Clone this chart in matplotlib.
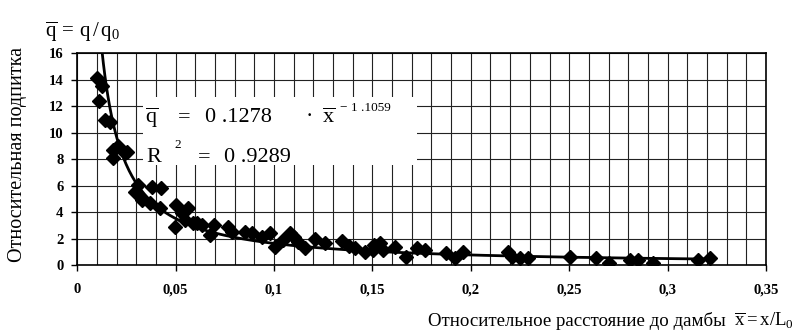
import numpy as np
import matplotlib
matplotlib.use("Agg")
from matplotlib import pyplot as plt
from matplotlib.ticker import MultipleLocator, FuncFormatter
from matplotlib.patches import Rectangle

plt.rcParams['font.family'] = ['Liberation Serif', 'DejaVu Serif']
plt.rcParams['mathtext.fontset'] = 'custom'
plt.rcParams['mathtext.rm'] = 'Liberation Serif'
plt.rcParams['mathtext.it'] = 'Liberation Serif'

# measured points (relative distance x, relative recharge q)
x_obs = [0.0099, 0.0127, 0.0112, 0.0141, 0.0166, 0.0180, 0.0208, 0.0251, 0.0183, 0.0242,
         0.0310, 0.0293, 0.0327, 0.0378, 0.0424, 0.0370, 0.0420, 0.0500, 0.0497, 0.0547,
         0.0564, 0.0607, 0.0632, 0.0674, 0.0695, 0.0767, 0.0784, 0.0850, 0.0887, 0.0937,
         0.0980, 0.1004, 0.1047, 0.1080, 0.1123, 0.1157, 0.1208, 0.1260, 0.1344, 0.1380,
         0.1410, 0.1460, 0.1505, 0.1540, 0.1555, 0.1614, 0.1673, 0.1724, 0.1766, 0.1876,
         0.1918, 0.1960, 0.2190, 0.2207, 0.2250, 0.2290, 0.2503, 0.2635, 0.2700, 0.2810,
         0.2850, 0.2927, 0.3155, 0.3215, 0.0530, 0.0590, 0.1100, 0.1510]
q_obs = [14.1, 13.5, 12.4, 10.96, 10.8, 8.7, 9.0, 8.57, 8.06, 8.44,
         6.05, 5.54, 4.91, 5.92, 5.8, 4.68, 4.3, 4.53, 2.9, 3.4,
         4.28, 3.15, 3.0, 2.27, 3.0, 2.9, 2.52, 2.52, 2.4, 2.14,
         2.4, 1.38, 1.9, 2.4, 1.76, 1.26, 2.0, 1.64, 1.84, 1.44,
         1.26, 1.0, 1.13, 1.64, 1.13, 1.38, 0.63, 1.26, 1.13, 0.88,
         0.5, 1.0, 1.0, 0.63, 0.5, 0.5, 0.63, 0.5, 0.13, 0.38,
         0.38, 0.13, 0.38, 0.5, 3.9, 3.2, 2.1, 1.5]

# power trendline from the chart label
coef_a = 0.1278
coef_b = -1.1059
x_fit = np.linspace(0.0125, 0.32, 400)
q_fit = coef_a * x_fit ** coef_b

fig = plt.figure(figsize=(7.95, 3.32), dpi=100)
ax = fig.add_axes([0.0972, 0.2018, 0.8663, 0.6377])

ax.set_xlim(0, 0.35)
ax.set_ylim(0, 16)
ax.xaxis.set_major_locator(MultipleLocator(0.05))
ax.xaxis.set_minor_locator(MultipleLocator(0.01))
ax.yaxis.set_major_locator(MultipleLocator(2))
ax.xaxis.set_major_formatter(FuncFormatter(lambda v, p: ('%g' % round(v, 2)).replace('.', ',')))
ax.grid(which='both', axis='x', color='#222222', linewidth=0.8)
ax.grid(which='major', axis='y', color='#222222', linewidth=0.8)
ax.set_axisbelow(True)
ax.tick_params(axis='both', which='major', direction='out', length=4, width=1,
               labelsize=10.5)
ax.tick_params(axis='x', which='major', pad=9)
ax.tick_params(axis='y', which='major', pad=6)
ax.tick_params(axis='x', which='minor', length=0)
for lab in ax.get_xticklabels() + ax.get_yticklabels():
    lab.set_fontweight('bold')
for sp in ax.spines.values():
    sp.set_linewidth(1.2)

# white panel behind the equation
ax.add_patch(Rectangle((0.0334, 7.56), 0.1392, 5.14, facecolor='white',
                       edgecolor='none', zorder=1.5))

ax.plot(x_fit, q_fit, color='black', linewidth=2.0, zorder=3)
ax.plot(x_obs, q_obs, linestyle='none', marker='D', markersize=7,
        color='black', zorder=4)

# equation text
fig.text(145 / 795, 1 - 123 / 332, r'$\overline{\mathrm{q}}$', fontsize=16)
fig.text(178 / 795, 1 - 122 / 332, '=', fontsize=16)
fig.text(205 / 795, 1 - 122 / 332, '0 .1278', fontsize=16)
fig.text(306 / 795, 1 - 122 / 332, '·', fontsize=16)
fig.text(322 / 795, 1 - 123 / 332, r'$\overline{\mathrm{x}}$', fontsize=16)
fig.text(340 / 795, 1 - 111 / 332, '− 1 .1059', fontsize=9.5)
fig.text(146 / 795, 1 - 162 / 332, 'R', fontsize=16)
fig.text(174 / 795, 1 - 148 / 332, '2', fontsize=9.5)
fig.text(198 / 795, 1 - 162 / 332, '=', fontsize=16)
fig.text(224 / 795, 1 - 162 / 332, '0 .9289', fontsize=16)

# axis titles
fig.text(45 / 795, 1 - 37 / 332,
         r'$\overline{\mathrm{q}}\,\mathrm{=\,q\,/\,q}_\mathrm{0}$', fontsize=15)
fig.text(18 / 795, 1 - 155 / 332, 'Относительная подпитка', rotation=90,
         ha='center', va='center', fontsize=14.5)
fig.text(428 / 795, 1 - 326 / 332, 'Относительное расстояние до дамбы',
         ha='left', va='baseline', fontsize=13.6)
fig.text(794 / 795, 1 - 326 / 332,
         r'$\overline{\mathrm{x}}\mathrm{=x/L}_\mathrm{0}$',
         ha='right', va='baseline', fontsize=13.5)

fig.savefig('out.png', dpi=100)
